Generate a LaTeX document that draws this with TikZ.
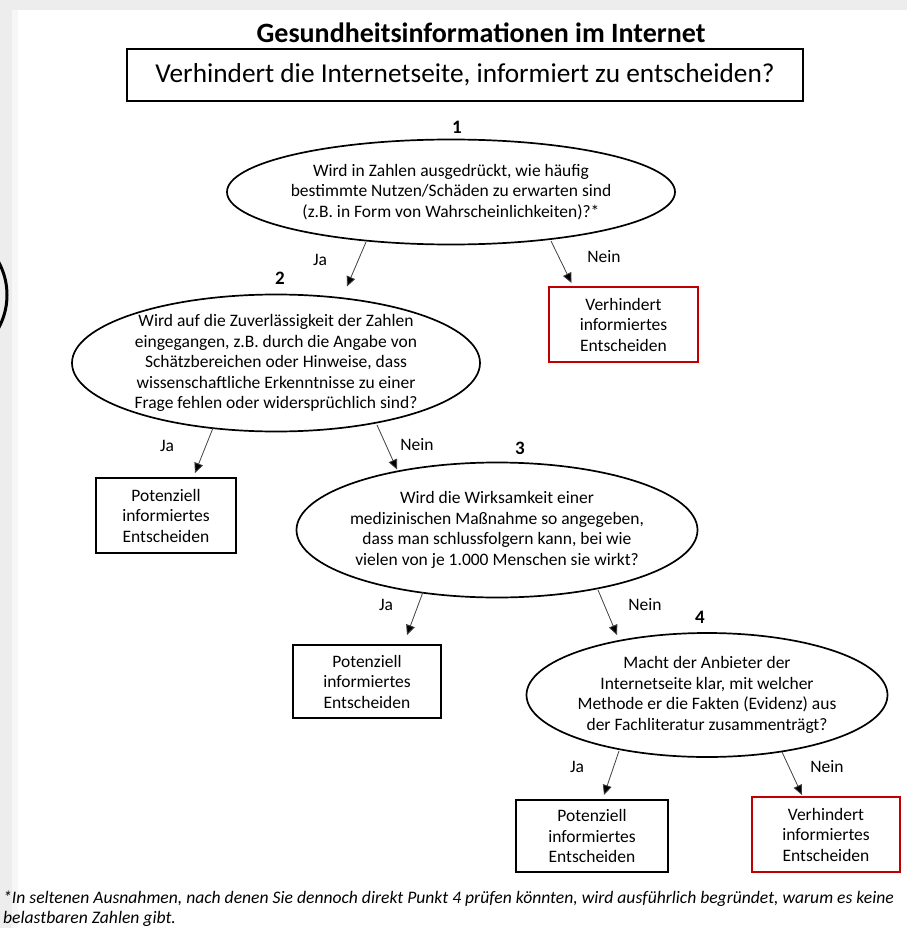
\documentclass[tikz,border=0pt]{standalone}
\usepackage{fontspec}
\setmainfont{Carlito}
\usetikzlibrary{shapes.geometric,arrows.meta,calc}
\definecolor{redbox}{HTML}{C00000}
\definecolor{arrgray}{HTML}{404040}
\tikzset{
  txt/.style={font=\fontsize{17.5}{20.5}\selectfont, align=center, inner sep=0pt, outer sep=0pt},
  question/.style={txt, ellipse, draw=black, line width=1.7pt, inner xsep=-30pt, inner ysep=-12pt},
  okbox/.style={txt, rectangle, draw=black, line width=1.1pt},
  badbox/.style={txt, rectangle, draw=redbox, line width=2.8pt},
  lbl/.style={font=\fontsize{17.5}{20}\selectfont, inner sep=0pt},
  num/.style={font=\fontsize{19}{22}\selectfont\bfseries, inner sep=0pt},
  arr/.style={draw=arrgray, line width=0.8pt, -{Triangle[length=10pt,width=9pt,fill=black]}}
}
\begin{document}
\begin{tikzpicture}[x=1pt,y=1pt]
\useasboundingbox (0,0) rectangle (907,-928);
\clip (0,0) rectangle (907,-928);
\fill[white] (0,0) rectangle (907,-928);
% screenshot frame
\fill[black!7] (0,0) rectangle (907,-10);
\fill[black!7] (0,0) rectangle (12,-928);
\fill[black!3] (12,-10) rectangle (18,-928);
\draw[line width=3pt] (-62,-295) circle (69);

% title and question
\node[font=\fontsize{28}{32}\selectfont\bfseries, inner sep=0pt] (title) at (481,-33) {Gesundheitsinformationen im Internet};
\node[draw=black, line width=1.1pt, minimum width=676pt, minimum height=52pt, inner sep=0pt,
      font=\fontsize{27.3}{31}\selectfont] (qbox) at (465,-75) {Verhindert die Internetseite, informiert zu entscheiden?};

% numbers
\node[num] (n1) at (457,-127) {1};
\node[num] (n2) at (280,-278) {2};
\node[num] (n3) at (520,-448) {3};
\node[num] (n4) at (700,-617) {4};

% questions
\node[question, minimum width=448pt, minimum height=105pt] (e1) at (451,-192)
  {Wird in Zahlen ausgedrückt, wie häufig\\bestimmte Nutzen/Schäden zu erwarten sind\\(z.B. in Form von Wahrscheinlichkeiten)?*};
\node[question, minimum width=408pt, minimum height=137pt] (e2) at (276,-363)
  {Wird auf die Zuverlässigkeit der Zahlen\\eingegangen, z.B. durch die Angabe von\\Schätzbereichen oder Hinweise, dass\\wissenschaftliche Erkenntnisse zu einer\\Frage fehlen oder widersprüchlich sind?};
\node[question, minimum width=401pt, minimum height=135pt] (e3) at (497,-530)
  {Wird die Wirksamkeit einer\\medizinischen Maßnahme so angegeben,\\dass man schlussfolgern kann, bei wie\\vielen von je 1.000 Menschen sie wirkt?};
\node[question, minimum width=361pt, minimum height=124pt] (e4) at (707,-695)
  {Macht der Anbieter der\\Internetseite klar, mit welcher\\Methode er die Fakten (Evidenz) aus\\der Fachliteratur zusammenträgt?};

% outcomes
\node[badbox, minimum width=149pt, minimum height=75pt] (r1) at (623.5,-324.5) {Verhindert\\informiertes\\Entscheiden};
\node[okbox, minimum width=140pt, minimum height=75pt] (p1) at (166,-515.5) {Potenziell\\informiertes\\Entscheiden};
\node[okbox, minimum width=148pt, minimum height=73pt] (p2) at (367,-681.5) {Potenziell\\informiertes\\Entscheiden};
\node[okbox, minimum width=152pt, minimum height=72pt] (p3) at (592,-836) {Potenziell\\informiertes\\Entscheiden};
\node[badbox, minimum width=148pt, minimum height=75pt] (r2) at (826,-834.5) {Verhindert\\informiertes\\Entscheiden};

% labels
\node[lbl] (ja1) at (320,-260) {Ja};
\node[lbl] (nein1) at (604,-257) {Nein};
\node[lbl] (ja2) at (167,-446) {Ja};
\node[lbl] (nein2) at (417,-445) {Nein};
\node[lbl] (ja3) at (386,-605) {Ja};
\node[lbl] (nein3) at (645,-605) {Nein};
\node[lbl] (ja4) at (577,-767) {Ja};
\node[lbl] (nein4) at (827,-767) {Nein};

% connectors
\draw[arr] ($(e1.center)+(-85,-50)$) -- ($(e2.north)+(71,8)$);
\draw[arr] ($(e1.center)+(100,-49)$) -- ($(r1.north)+(-52,4)$);
\draw[arr] ($(e2.center)+(-63,-65)$) -- ($(p1.north)+(29,5)$);
\draw[arr] ($(e2.center)+(101,-62)$) -- ($(e3.north)+(-100,-7)$);
\draw[arr] ($(e3.center)+(-74,-62)$) -- ($(p2.north)+(40,10)$);
\draw[arr] ($(e3.center)+(101,-60)$) -- ($(e4.north)+(-90,-2)$);
\draw[arr] ($(e4.center)+(-88,-56)$) -- ($(p3.north)+(12,5)$);
\draw[arr] ($(e4.center)+(75,-57)$) -- ($(r2.north)+(-24,2)$);

% footnote
\node[anchor=north west, align=left, inner sep=0pt, font=\fontsize{17.6}{19.5}\selectfont\itshape] (fn) at (3,-891)
  {*In seltenen Ausnahmen, nach denen Sie dennoch direkt Punkt 4 prüfen könnten, wird ausführlich begründet, warum es keine\\belastbaren Zahlen gibt.};
\end{tikzpicture}
\end{document}
